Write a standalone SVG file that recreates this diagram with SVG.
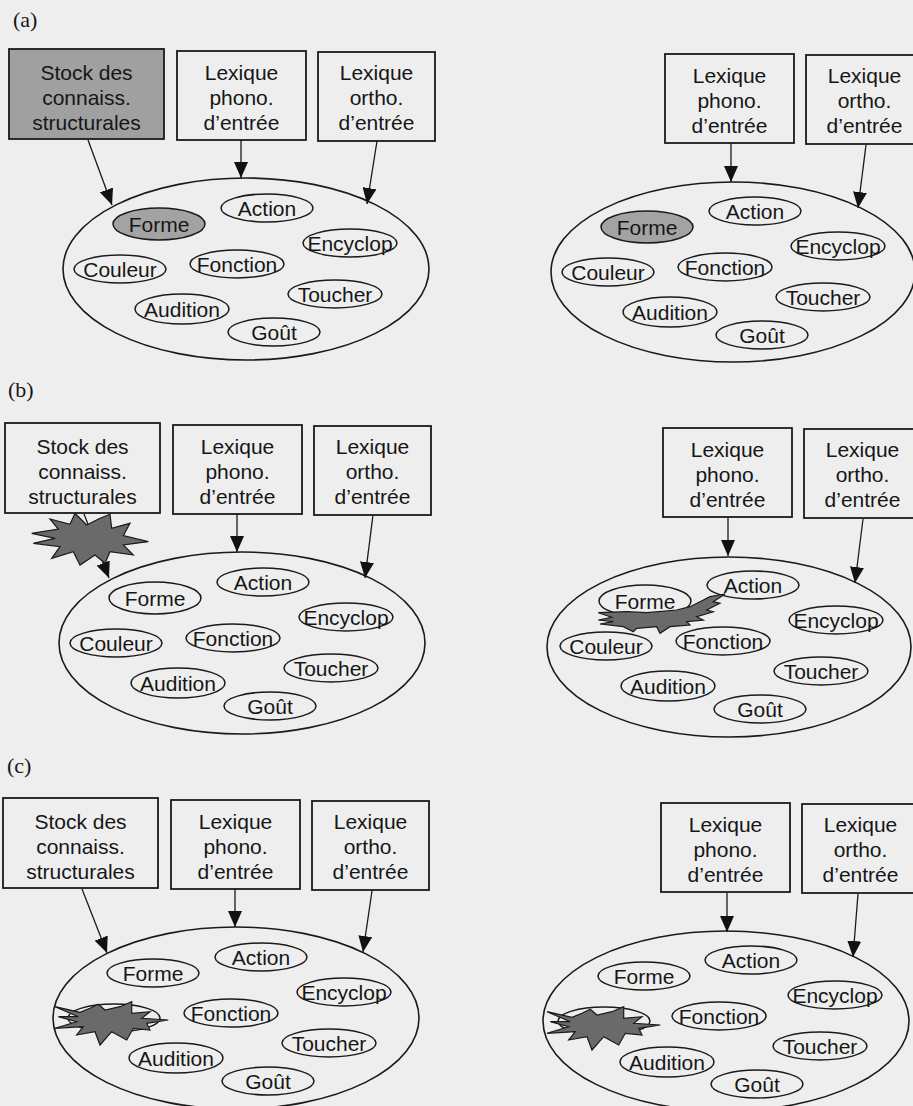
<svg xmlns="http://www.w3.org/2000/svg" width="913" height="1106" viewBox="0 0 913 1106">
<defs>
<style>
.bg{fill:#eeeeee}
.box{fill:none;stroke:#1a1a1a;stroke-width:1.8}
.boxg{fill:#a0a0a0;stroke:#1a1a1a;stroke-width:1.8}
.big{fill:none;stroke:#1a1a1a;stroke-width:1.6}
.sm{fill:none;stroke:#1a1a1a;stroke-width:1.5}
.smg{fill:#a3a3a3;stroke:#1a1a1a;stroke-width:1.5}
.t{font-family:"Liberation Sans",Arial,sans-serif;font-size:21px;fill:#161616;text-anchor:middle}
.lab{font-family:"Liberation Serif","Times New Roman",serif;font-size:22px;fill:#161616}
.con{stroke:#1a1a1a;stroke-width:1.3;fill:none;marker-end:url(#ah)}
.les{fill:#6a6a6a;stroke:#1a1a1a;stroke-width:1.2;stroke-linejoin:miter}
</style>
<marker id="ah" markerUnits="userSpaceOnUse" markerWidth="17" markerHeight="14" refX="16" refY="7" orient="auto" viewBox="0 0 17 14">
<path d="M0,0 L16,7 L0,14 z" fill="#111"/>
</marker>
</defs>
<rect class="bg" x="0" y="0" width="913" height="1106"/>

<text class="lab" x="13" y="27">(a)</text>
<text class="lab" x="8" y="397">(b)</text>
<text class="lab" x="7" y="773">(c)</text>

<!-- Panel (a) left -->
<g id="panel-a-left">
<g id="a1-stock"><rect class="boxg" x="9" y="49" width="155" height="90"/><text class="t" x="86.5" y="80">Stock des</text><text class="t" x="86.5" y="105">connaiss.</text><text class="t" x="86.5" y="130">structurales</text></g>
<g id="a1-phono"><rect class="box" x="177" y="51" width="129" height="89"/><text class="t" x="241.5" y="80">Lexique</text><text class="t" x="241.5" y="105">phono.</text><text class="t" x="241.5" y="130">d’entrée</text></g>
<g id="a1-ortho"><rect class="box" x="318" y="52" width="117" height="89"/><text class="t" x="376.5" y="80">Lexique</text><text class="t" x="376.5" y="105">ortho.</text><text class="t" x="376.5" y="130">d’entrée</text></g>
<g id="a1-sem"><ellipse class="big" cx="246" cy="269" rx="183" ry="91"/></g>
<g id="a1-forme"><ellipse class="smg" cx="159" cy="224" rx="46" ry="16"/><text class="t" x="159" y="231.5">Forme</text></g>
<g id="a1-action"><ellipse class="sm" cx="267" cy="208" rx="46" ry="14"/><text class="t" x="267" y="215.5">Action</text></g>
<g id="a1-encyclop"><ellipse class="sm" cx="350" cy="243" rx="47" ry="14"/><text class="t" x="350" y="250.5">Encyclop</text></g>
<g id="a1-couleur"><ellipse class="sm" cx="120" cy="269" rx="46" ry="14"/><text class="t" x="120" y="276.5">Couleur</text></g>
<g id="a1-fonction"><ellipse class="sm" cx="237" cy="264" rx="47" ry="14"/><text class="t" x="237" y="271.5">Fonction</text></g>
<g id="a1-toucher"><ellipse class="sm" cx="335" cy="294" rx="47" ry="14"/><text class="t" x="335" y="301.5">Toucher</text></g>
<g id="a1-audition"><ellipse class="sm" cx="182" cy="309" rx="47" ry="15"/><text class="t" x="182" y="316.5">Audition</text></g>
<g id="a1-gout"><ellipse class="sm" cx="274" cy="332" rx="46" ry="14"/><text class="t" x="274" y="339.5">Goût</text></g>
<g id="a1-connectors"><line class="con" x1="88" y1="140" x2="112" y2="205"/><line class="con" x1="241" y1="140" x2="241" y2="178"/><line class="con" x1="377" y1="141" x2="367" y2="204"/></g>
</g>

<!-- Panel (a) right -->
<g id="panel-a-right" transform="translate(488,3)">
<g id="a2-phono"><rect class="box" x="177" y="51" width="129" height="89"/><text class="t" x="241.5" y="80">Lexique</text><text class="t" x="241.5" y="105">phono.</text><text class="t" x="241.5" y="130">d’entrée</text></g>
<g id="a2-ortho"><rect class="box" x="318" y="52" width="117" height="89"/><text class="t" x="376.5" y="80">Lexique</text><text class="t" x="376.5" y="105">ortho.</text><text class="t" x="376.5" y="130">d’entrée</text></g>
<g id="a2-sem"><ellipse class="big" cx="245" cy="269" rx="182" ry="90"/></g>
<g id="a2-forme"><ellipse class="smg" cx="159" cy="224" rx="46" ry="16"/><text class="t" x="159" y="231.5">Forme</text></g>
<g id="a2-action"><ellipse class="sm" cx="267" cy="208" rx="46" ry="14"/><text class="t" x="267" y="215.5">Action</text></g>
<g id="a2-encyclop"><ellipse class="sm" cx="350" cy="243" rx="47" ry="14"/><text class="t" x="350" y="250.5">Encyclop</text></g>
<g id="a2-couleur"><ellipse class="sm" cx="120" cy="269" rx="46" ry="14"/><text class="t" x="120" y="276.5">Couleur</text></g>
<g id="a2-fonction"><ellipse class="sm" cx="237" cy="264" rx="47" ry="14"/><text class="t" x="237" y="271.5">Fonction</text></g>
<g id="a2-toucher"><ellipse class="sm" cx="335" cy="294" rx="47" ry="14"/><text class="t" x="335" y="301.5">Toucher</text></g>
<g id="a2-audition"><ellipse class="sm" cx="182" cy="309" rx="47" ry="15"/><text class="t" x="182" y="316.5">Audition</text></g>
<g id="a2-gout"><ellipse class="sm" cx="274" cy="332" rx="46" ry="14"/><text class="t" x="274" y="339.5">Goût</text></g>
<g id="a2-connectors"><line class="con" x1="243" y1="140" x2="243" y2="179"/><line class="con" x1="378" y1="142" x2="370" y2="205"/></g>
</g>

<!-- Panel (b) left -->
<g id="panel-b-left" transform="translate(-4,374)">
<g id="b1-stock"><rect class="box" x="9" y="49" width="155" height="90"/><text class="t" x="86.5" y="80">Stock des</text><text class="t" x="86.5" y="105">connaiss.</text><text class="t" x="86.5" y="130">structurales</text></g>
<g id="b1-phono"><rect class="box" x="177" y="51" width="129" height="89"/><text class="t" x="241.5" y="80">Lexique</text><text class="t" x="241.5" y="105">phono.</text><text class="t" x="241.5" y="130">d’entrée</text></g>
<g id="b1-ortho"><rect class="box" x="318" y="52" width="117" height="89"/><text class="t" x="376.5" y="80">Lexique</text><text class="t" x="376.5" y="105">ortho.</text><text class="t" x="376.5" y="130">d’entrée</text></g>
<g id="b1-sem"><ellipse class="big" cx="246" cy="269" rx="183" ry="91"/></g>
<g id="b1-forme"><ellipse class="sm" cx="159" cy="224" rx="46" ry="16"/><text class="t" x="159" y="231.5">Forme</text></g>
<g id="b1-action"><ellipse class="sm" cx="267" cy="208" rx="46" ry="14"/><text class="t" x="267" y="215.5">Action</text></g>
<g id="b1-encyclop"><ellipse class="sm" cx="350" cy="243" rx="47" ry="14"/><text class="t" x="350" y="250.5">Encyclop</text></g>
<g id="b1-couleur"><ellipse class="sm" cx="120" cy="269" rx="46" ry="14"/><text class="t" x="120" y="276.5">Couleur</text></g>
<g id="b1-fonction"><ellipse class="sm" cx="237" cy="264" rx="47" ry="14"/><text class="t" x="237" y="271.5">Fonction</text></g>
<g id="b1-toucher"><ellipse class="sm" cx="335" cy="294" rx="47" ry="14"/><text class="t" x="335" y="301.5">Toucher</text></g>
<g id="b1-audition"><ellipse class="sm" cx="182" cy="309" rx="47" ry="15"/><text class="t" x="182" y="316.5">Audition</text></g>
<g id="b1-gout"><ellipse class="sm" cx="274" cy="332" rx="46" ry="14"/><text class="t" x="274" y="339.5">Goût</text></g>
<g id="b1-connectors"><line class="con" x1="88" y1="140" x2="113" y2="204"/><line class="con" x1="241" y1="140" x2="241" y2="178"/><line class="con" x1="377" y1="141" x2="369" y2="204"/></g>
</g>

<!-- Panel (b) right -->
<g id="panel-b-right" transform="translate(486,377)">
<g id="b2-phono"><rect class="box" x="177" y="51" width="129" height="89"/><text class="t" x="241.5" y="80">Lexique</text><text class="t" x="241.5" y="105">phono.</text><text class="t" x="241.5" y="130">d’entrée</text></g>
<g id="b2-ortho"><rect class="box" x="318" y="52" width="117" height="89"/><text class="t" x="376.5" y="80">Lexique</text><text class="t" x="376.5" y="105">ortho.</text><text class="t" x="376.5" y="130">d’entrée</text></g>
<g id="b2-sem"><ellipse class="big" cx="243" cy="270" rx="182" ry="90"/></g>
<g id="b2-forme"><ellipse class="sm" cx="159" cy="224" rx="46" ry="16"/><text class="t" x="159" y="231.5">Forme</text></g>
<g id="b2-action"><ellipse class="sm" cx="267" cy="208" rx="46" ry="14"/><text class="t" x="267" y="215.5">Action</text></g>
<g id="b2-encyclop"><ellipse class="sm" cx="350" cy="243" rx="47" ry="14"/><text class="t" x="350" y="250.5">Encyclop</text></g>
<g id="b2-couleur"><ellipse class="sm" cx="120" cy="269" rx="46" ry="14"/><text class="t" x="120" y="276.5">Couleur</text></g>
<g id="b2-fonction"><ellipse class="sm" cx="237" cy="264" rx="47" ry="14"/><text class="t" x="237" y="271.5">Fonction</text></g>
<g id="b2-toucher"><ellipse class="sm" cx="335" cy="294" rx="47" ry="14"/><text class="t" x="335" y="301.5">Toucher</text></g>
<g id="b2-audition"><ellipse class="sm" cx="182" cy="309" rx="47" ry="15"/><text class="t" x="182" y="316.5">Audition</text></g>
<g id="b2-gout"><ellipse class="sm" cx="274" cy="332" rx="46" ry="14"/><text class="t" x="274" y="339.5">Goût</text></g>
<g id="b2-connectors"><line class="con" x1="242" y1="141" x2="242" y2="179"/><line class="con" x1="377" y1="142" x2="369" y2="206"/></g>
</g>

<!-- Panel (c) left -->
<g id="panel-c-left" transform="translate(-6,749)">
<g id="c1-stock"><rect class="box" x="9" y="49" width="155" height="90"/><text class="t" x="86.5" y="80">Stock des</text><text class="t" x="86.5" y="105">connaiss.</text><text class="t" x="86.5" y="130">structurales</text></g>
<g id="c1-phono"><rect class="box" x="177" y="51" width="129" height="89"/><text class="t" x="241.5" y="80">Lexique</text><text class="t" x="241.5" y="105">phono.</text><text class="t" x="241.5" y="130">d’entrée</text></g>
<g id="c1-ortho"><rect class="box" x="318" y="52" width="117" height="89"/><text class="t" x="376.5" y="80">Lexique</text><text class="t" x="376.5" y="105">ortho.</text><text class="t" x="376.5" y="130">d’entrée</text></g>
<g id="c1-sem"><ellipse class="big" cx="242" cy="269" rx="183" ry="91"/></g>
<g id="c1-forme"><ellipse class="sm" cx="159" cy="224" rx="46" ry="14"/><text class="t" x="159" y="231.5">Forme</text></g>
<g id="c1-action"><ellipse class="sm" cx="267" cy="208" rx="46" ry="14"/><text class="t" x="267" y="215.5">Action</text></g>
<g id="c1-encyclop"><ellipse class="sm" cx="350" cy="243" rx="47" ry="14"/><text class="t" x="350" y="250.5">Encyclop</text></g>
<g id="c1-couleur"><ellipse class="sm" cx="120" cy="269" rx="46" ry="14"/></g>
<g id="c1-fonction"><ellipse class="sm" cx="237" cy="264" rx="47" ry="14"/><text class="t" x="237" y="271.5">Fonction</text></g>
<g id="c1-toucher"><ellipse class="sm" cx="335" cy="294" rx="47" ry="14"/><text class="t" x="335" y="301.5">Toucher</text></g>
<g id="c1-audition"><ellipse class="sm" cx="182" cy="309" rx="47" ry="15"/><text class="t" x="182" y="316.5">Audition</text></g>
<g id="c1-gout"><ellipse class="sm" cx="274" cy="332" rx="46" ry="14"/><text class="t" x="274" y="339.5">Goût</text></g>
<g id="c1-connectors"><line class="con" x1="88" y1="140" x2="113" y2="204"/><line class="con" x1="241" y1="140" x2="241" y2="178"/><line class="con" x1="378" y1="142" x2="369" y2="203"/></g>
</g>

<!-- Panel (c) right -->
<g id="panel-c-right" transform="translate(484,752)">
<g id="c2-phono"><rect class="box" x="177" y="51" width="129" height="89"/><text class="t" x="241.5" y="80">Lexique</text><text class="t" x="241.5" y="105">phono.</text><text class="t" x="241.5" y="130">d’entrée</text></g>
<g id="c2-ortho"><rect class="box" x="318" y="52" width="117" height="89"/><text class="t" x="376.5" y="80">Lexique</text><text class="t" x="376.5" y="105">ortho.</text><text class="t" x="376.5" y="130">d’entrée</text></g>
<g id="c2-sem"><ellipse class="big" cx="242" cy="269" rx="183" ry="90"/></g>
<g id="c2-forme"><ellipse class="sm" cx="160" cy="224" rx="46" ry="14"/><text class="t" x="160" y="231.5">Forme</text></g>
<g id="c2-action"><ellipse class="sm" cx="267" cy="208" rx="46" ry="14"/><text class="t" x="267" y="215.5">Action</text></g>
<g id="c2-encyclop"><ellipse class="sm" cx="351" cy="243" rx="47" ry="14"/><text class="t" x="351" y="250.5">Encyclop</text></g>
<g id="c2-couleur"><ellipse class="sm" cx="120" cy="269" rx="46" ry="14"/></g>
<g id="c2-fonction"><ellipse class="sm" cx="235" cy="264" rx="47" ry="14"/><text class="t" x="235" y="271.5">Fonction</text></g>
<g id="c2-toucher"><ellipse class="sm" cx="336" cy="294" rx="47" ry="14"/><text class="t" x="336" y="301.5">Toucher</text></g>
<g id="c2-audition"><ellipse class="sm" cx="183" cy="310" rx="47" ry="15"/><text class="t" x="183" y="317.5">Audition</text></g>
<g id="c2-gout"><ellipse class="sm" cx="273" cy="332" rx="46" ry="14"/><text class="t" x="273" y="339.5">Goût</text></g>
<g id="c2-connectors"><line class="con" x1="243" y1="141" x2="243" y2="180"/><line class="con" x1="374" y1="142" x2="369" y2="205"/></g>
</g>

<!-- Lesions -->
<g id="lesions">
<polygon id="lesion-b-left" class="les" points="31.7,533.3 58.3,529 50,519 70,524.3 75,513.3 86.7,525 100,518.3 110,514.3 111.7,528.3 130,523.3 123.3,535.7 148.3,541.7 123.3,545 133.3,555 110,551.7 105,563.3 95,555 80,565 73.3,551.7 51.7,558.3 60,546.7 33.3,543.3 55,538.3"/>
<polygon id="lesion-b-right" class="les" points="598.3,612.7 626.7,611.7 646.7,612.7 676.7,610 690,606.7 700,601.7 710,596.7 725,594 713.3,601.7 720,603.3 706.7,610 713.3,611.7 696.7,616.7 703.3,620 686.7,621.7 690,625 670,626.7 660,633.3 656.7,626.7 636.7,628.3 633.3,631.7 623.3,626.7 600,624 613.3,621.7 598.3,620 611.7,617.3"/>
<polygon id="lesion-c-left" class="les" points="55,1006.7 80,1012.3 90,1008.3 98.3,1004.3 105,1010 120,1006.7 131.7,1001.7 131.7,1013.3 150,1011.7 141.7,1018.3 168.3,1020 146.7,1023.3 150,1030 133.3,1028.3 126.7,1040 111.7,1031.7 100,1045 95,1031.7 76.7,1035 83.3,1026.7 55,1028.3 76.7,1021.7 58.3,1016.7 78.3,1016.7"/>
<polygon id="lesion-c-right" class="les" transform="translate(492,5)" points="55,1006.7 80,1012.3 90,1008.3 98.3,1004.3 105,1010 120,1006.7 131.7,1001.7 131.7,1013.3 150,1011.7 141.7,1018.3 168.3,1020 146.7,1023.3 150,1030 133.3,1028.3 126.7,1040 111.7,1031.7 100,1045 95,1031.7 76.7,1035 83.3,1026.7 55,1028.3 76.7,1021.7 58.3,1016.7 78.3,1016.7"/>
</g>
</svg>
